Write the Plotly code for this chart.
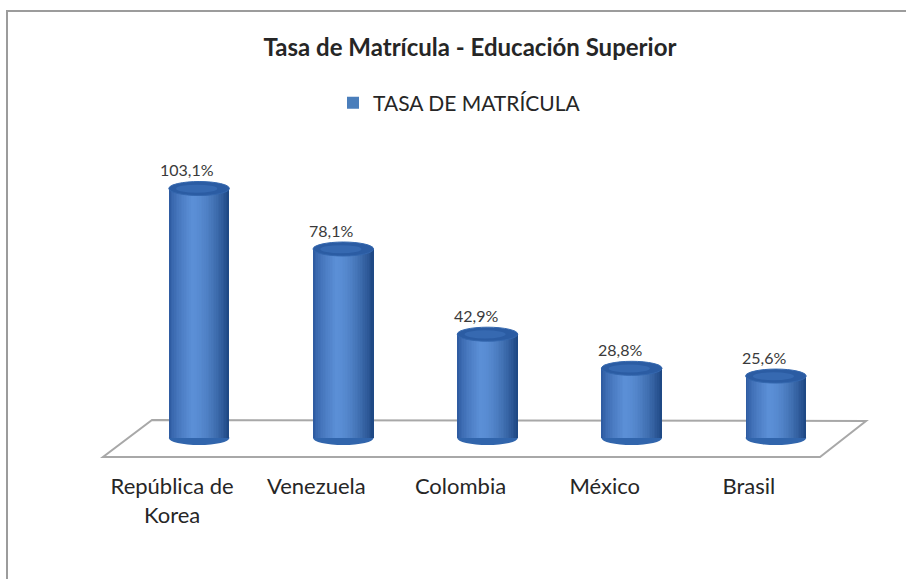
import plotly.graph_objects as go

# ---- data -------------------------------------------------------------
countries = ["República de<br>Korea", "Venezuela", "Colombia", "México", "Brasil"]
tasa = [103.1, 78.1, 42.9, 28.8, 25.6]
tasa_labels = ["103,1%", "78,1%", "42,9%", "28,8%", "25,6%"]
series_name = "TASA DE MATRÍCULA"

# ---- geometry / styling -------------------------------------------------
W_PX, H_PX = 906, 579
M_L, M_R, M_T, M_B = 127, 58, 136, 117
PLOT_W = W_PX - M_L - M_R
PLOT_H = H_PX - M_T - M_B
PX_PER_UNIT = 2.42          # vertical scale of the value axis
ZERO_PX = 438               # pixel row of the value 0
X_UNIT_PX = PLOT_W / 5.0

Y_MIN = -(H_PX - M_B - ZERO_PX) / PX_PER_UNIT
Y_MAX = (ZERO_PX - M_T) / PX_PER_UNIT

CYL_W = 0.42                # cylinder width in category units
ELL_H = 7 / PX_PER_UNIT     # half height of the cylinder cap ellipse
LABEL_SHIFT = -27 / X_UNIT_PX   # perspective shift of the category labels
VALUE_SHIFT = -12 / X_UNIT_PX   # perspective shift of the value labels

FONT = "Lato, 'Open Sans', sans-serif"

xpos = list(range(len(countries)))


def px_to_paper_x(px):
    return (px - M_L) / PLOT_W


def px_to_paper_y(py):
    return (H_PX - M_B - py) / PLOT_H


def mix(c1, c2, t):
    a = [int(c1[i:i + 2], 16) for i in (1, 3, 5)]
    b = [int(c2[i:i + 2], 16) for i in (1, 3, 5)]
    return "#" + "".join(f"{round(a[i] + (b[i] - a[i]) * t):02x}" for i in range(3))


DARK_L = "#28549a"
HIGHLIGHT = "#5b8fd6"
DARK_R = "#1d4682"

fig = go.Figure()

# full cylinder body (also carries the legend entry)
fig.add_trace(go.Bar(
    x=xpos, y=tasa, width=CYL_W, name=series_name,
    marker=dict(color="#4a7ebb", line=dict(width=0)),
    showlegend=True, hoverinfo="skip",
))

# narrow vertical strips that give the body its rounded shading
N_STRIPS = 36
STRIP_W = CYL_W / N_STRIPS
for k in range(N_STRIPS):
    t = (k + 0.5) / N_STRIPS
    if t < 0.38:
        col = mix(DARK_L, HIGHLIGHT, (t / 0.38) ** 0.6)
    else:
        col = mix(HIGHLIGHT, DARK_R, ((t - 0.38) / 0.62) ** 1.7)
    w = STRIP_W * (1.0 if k == N_STRIPS - 1 else 1.8)
    fig.add_trace(go.Bar(
        x=xpos, y=tasa,
        width=w,
        offset=-CYL_W / 2 + k * STRIP_W,
        marker=dict(color=col, line=dict(width=0)),
        showlegend=False, hoverinfo="skip",
    ))

shapes = []

# floor of the 3-D plot area (pixel corners converted to paper units)
floor_px = [(103, 457), (820, 457), (866, 421), (152, 420)]
floor_path = "M " + " L ".join(f"{px_to_paper_x(a):.5f},{px_to_paper_y(b):.5f}"
                               for a, b in floor_px) + " Z"
shapes.append(dict(type="path", path=floor_path, xref="paper", yref="paper",
                   line=dict(color="#a8a8a8", width=2), fillcolor="white",
                   layer="below"))

# rounded bottoms of the cylinders
for x in xpos:
    shapes.append(dict(type="circle", xref="x", yref="y",
                       x0=x - CYL_W / 2, x1=x + CYL_W / 2,
                       y0=-ELL_H, y1=ELL_H,
                       fillcolor="#3165ac", line=dict(width=0), layer="below"))

# caps of the cylinders
for x, v in zip(xpos, tasa):
    shapes.append(dict(type="circle", xref="x", yref="y",
                       x0=x - CYL_W / 2, x1=x + CYL_W / 2,
                       y0=v - ELL_H, y1=v + ELL_H,
                       fillcolor="#2b5ca3", line=dict(color="#3467ae", width=1)))
    shapes.append(dict(type="circle", xref="x", yref="y",
                       x0=x - CYL_W * 0.38, x1=x + CYL_W * 0.30,
                       y0=v - ELL_H * 0.6, y1=v + ELL_H * 0.55,
                       fillcolor="#3669b1", line=dict(width=0)))

# chart frame
shapes.append(dict(type="path", xref="paper", yref="paper",
                   path=(f"M {px_to_paper_x(7)},{px_to_paper_y(H_PX + 5)} "
                         f"L {px_to_paper_x(7)},{px_to_paper_y(11)} "
                         f"L {px_to_paper_x(W_PX + 5)},{px_to_paper_y(11)}"),
                   line=dict(color="#9c9c9c", width=2)))

# value labels
annotations = []
for x, v, lab in zip(xpos, tasa, tasa_labels):
    annotations.append(dict(x=x + VALUE_SHIFT, y=v, xref="x", yref="y",
                            text=lab, showarrow=False, yanchor="middle",
                            yshift=19, font=dict(family=FONT, size=16, color="#3a3a3a")))

fig.update_layout(
    width=W_PX, height=H_PX,
    margin=dict(l=M_L, r=M_R, t=M_T, b=M_B, pad=0),
    paper_bgcolor="white", plot_bgcolor="rgba(0,0,0,0)",
    barmode="overlay", bargap=0,
    title=dict(text="<b>Tasa de Matrícula - Educación Superior</b>",
               x=470 / W_PX, xanchor="center", y=1 - 48 / H_PX, yanchor="middle",
               font=dict(family=FONT, size=24, color="#262626")),
    legend=dict(orientation="h", x=333 / W_PX, xanchor="left", xref="container",
                y=1 - 103 / H_PX, yanchor="middle", yref="container",
                font=dict(family=FONT, size=21, color="#262626"),
                bgcolor="rgba(0,0,0,0)"),
    xaxis=dict(range=[-0.5, len(countries) - 0.5],
               tickmode="array",
               tickvals=[x + LABEL_SHIFT for x in xpos], ticktext=countries,
               ticks="outside", ticklen=5, tickcolor="rgba(0,0,0,0)",
               showgrid=False, zeroline=False, showline=False,
               tickfont=dict(family=FONT, size=22, color="#262626"),
               fixedrange=True),
    yaxis=dict(range=[Y_MIN, Y_MAX], visible=False, fixedrange=True),
    shapes=shapes, annotations=annotations,
    hovermode=False,
)

fig.write_html("out.html", config={"displayModeBar": False})
